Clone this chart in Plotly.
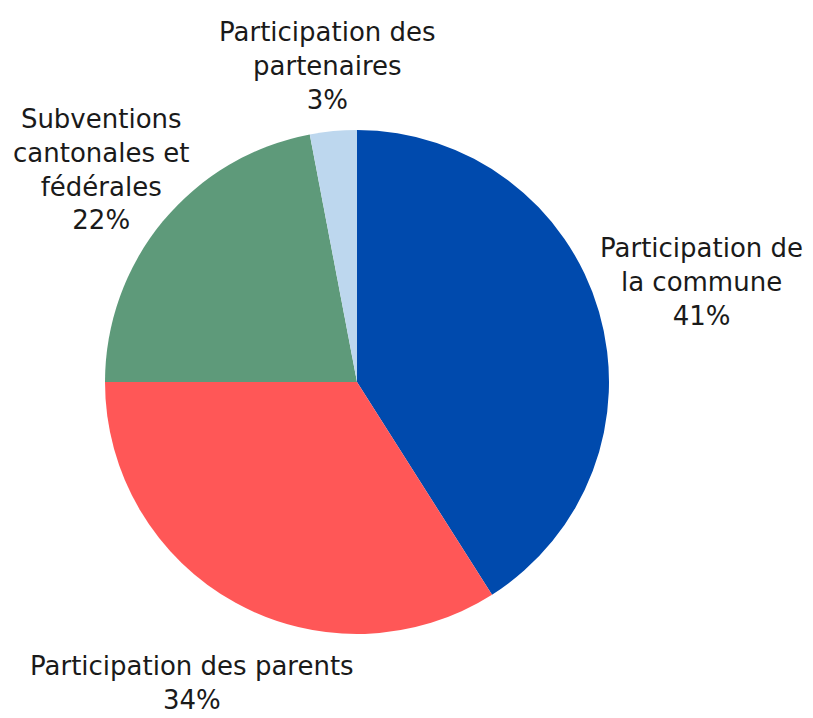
import math
import plotly.graph_objects as go

labels = ["Participation de<br>la commune", "Participation des parents",
          "Subventions<br>cantonales et<br>fédérales", "Participation des<br>partenaires"]
values = [41, 34, 22, 3]
colors = ["#004AAD", "#FF5757", "#5E9A7A", "#BDD7EE"]

W, H = 813, 718
OFF = 8                              # page body margin offset
CX, CY, R = 357 - OFF, 382 - OFF, 252  # pie centre and radius in figure pixels
label_dist = [1.425, 1.361, 1.32, 1.26]  # label distance from centre, in radii

fig = go.Figure(go.Pie(
    labels=labels, values=values, sort=False, direction="clockwise", rotation=0,
    marker=dict(colors=colors, line=dict(width=0)),
    textinfo="none", showlegend=False, hoverinfo="label+percent",
    domain=dict(x=[(CX - R) / W, (CX + R) / W], y=[(H - CY - R) / H, (H - CY + R) / H]),
))

total = sum(values)
cum = 0
for lab, v, k in zip(labels, values, label_dist):
    mid = (cum + v / 2) / total * 2 * math.pi
    cum += v
    px = CX + math.sin(mid) * R * k
    py = CY - math.cos(mid) * R * k
    fig.add_annotation(
        x=px / W, y=1 - py / H, xref="paper", yref="paper",
        text=f"{lab}<br>{round(v / total * 100)}%", showarrow=False,
        xanchor="center", yanchor="middle", align="center",
        font=dict(family="DejaVu Sans", size=26, color="#1a1a1a"),
    )

fig.update_layout(width=W, height=H, margin=dict(l=0, r=0, t=0, b=0),
                  paper_bgcolor="white", plot_bgcolor="white")
fig.write_html("out.html")
